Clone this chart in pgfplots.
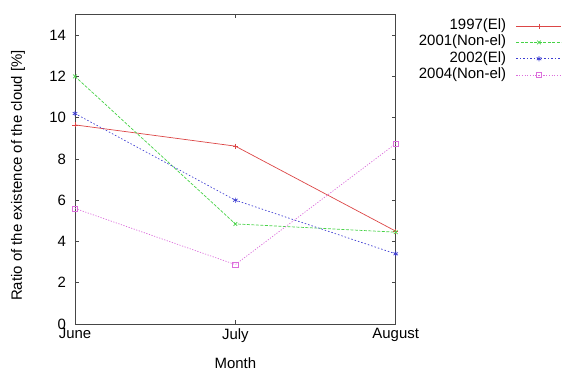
\documentclass[border=0pt]{standalone}
\usepackage{pgfplots}
\pgfplotsset{compat=1.18}
\usepackage{fontspec}
\setmainfont{Liberation Sans}
\definecolor{cRed}{RGB}{220,70,70}
\definecolor{cGreen}{RGB}{70,210,70}
\definecolor{cBlue}{RGB}{60,60,210}
\definecolor{cMag}{RGB}{220,110,220}
\definecolor{cAxis}{RGB}{70,70,70}
\newcommand{\f}{\fontsize{15}{18}\selectfont}
\tikzset{
  sRed/.style={draw=cRed, color=cRed, mark=+, mark options={solid, draw=cRed}},
  sGreen/.style={draw=cGreen, color=cGreen, dash pattern=on 3bp off 1.5bp, mark=x, mark options={solid, draw=cGreen}},
  sBlue/.style={draw=cBlue, color=cBlue, dash pattern=on 1.5bp off 2bp, mark=asterisk, mark options={solid, draw=cBlue}},
  sMag/.style={draw=cMag, color=cMag, dash pattern=on 1.2bp off 1.5bp, mark=square, mark options={solid, draw=cMag}},
}
\pgfplotsset{
  limg/.style={legend image code/.code={\draw[mark repeat=2,mark phase=2,line width=0.7bp,mark size=2.6bp,#1] plot coordinates {(0bp,0bp)(22.5bp,0bp)(45bp,0bp)};}},
}
\begin{document}
\begin{tikzpicture}[font=\f]
\useasboundingbox (-75bp,-45bp) rectangle (490bp,324bp);
\begin{axis}[at={(0,0)}, anchor=south west, scale only axis,
  width=320.7bp, height=309.5bp,
  xmin=0, xmax=2, ymin=0, ymax=15,
  xtick={0,1,2}, xticklabels={June,July,August},
  ytick={0,2,...,14},
  tick align=inside,
  axis line style={draw=cAxis, line width=0.8bp},
  major tick style={draw=cAxis, line width=0.8bp},
  major tick length=4bp,
  /pgf/number format/assume math mode=true,
  tick label style={font=\f},
  label style={font=\f},
  xlabel={Month}, ylabel={Ratio of the existence of the cloud [\%]},
  xlabel style={at={(axis description cs:0.5,-0.125)}, anchor=center},
  ylabel style={at={(axis description cs:-0.178,0.48)}, anchor=center},
  yticklabel style={xshift=-5.5bp},
  xticklabel style={yshift=-1bp},
  legend style={at={(1.528,0.99)}, anchor=north east, draw=none, fill=none,
    nodes={inner sep=0pt, text height=9.8bp, text depth=3bp}, row sep=3.5bp,
    /tikz/every odd column/.append style={column sep=10bp}},
  legend cell align=right, legend plot pos=right,
  every axis plot/.append style={line width=0.7bp, mark size=2.6bp},
]
\addplot[sRed, limg={sRed}] coordinates {(0,9.65) (1,8.62) (2,4.5)};
\addlegendentry{1997(El)}
\addplot[sGreen, limg={sGreen}] coordinates {(0,12.0) (1,4.85) (2,4.45)};
\addlegendentry{2001(Non-el)}
\addplot[sBlue, limg={sBlue}] coordinates {(0,10.2) (1,6.0) (2,3.4)};
\addlegendentry{2002(El)}
\addplot[sMag, limg={sMag}] coordinates {(0,5.6) (1,2.88) (2,8.74)};
\addlegendentry{2004(Non-el)}
\end{axis}
\end{tikzpicture}
\end{document}
